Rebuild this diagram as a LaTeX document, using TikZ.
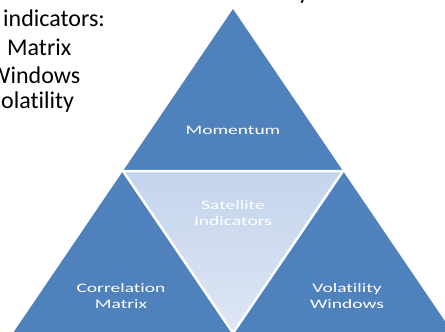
\documentclass[tikz,border=0pt]{standalone}
\usepackage{fontspec}
\setmainfont[Ligatures=CommonOff]{Carlito}
\newfontfamily\widefont[FakeStretch=1.5,Ligatures=CommonOff]{Carlito}
\usetikzlibrary{calc}

\definecolor{triblue}{HTML}{4F81BD}
\definecolor{satlight}{HTML}{C4D4ED}
\definecolor{satpale}{HTML}{DDE6F4}

\tikzset{
  tri/.style={fill=triblue},
  trilabel/.style={text=white,font=\widefont\fontsize{13}{16}\selectfont,align=center},
  sidetext/.style={anchor=base west,inner sep=0pt,font=\fontsize{24}{28}\selectfont},
}

\begin{document}
\begin{tikzpicture}[x=1pt,y=-1pt]
    \useasboundingbox (0,0) rectangle (445,332);
    \clip (0,0) rectangle (445,332);
    % Corners of the big triangle
        \coordinate (top) at (233,9);
        \coordinate (bl) at (13,333);
        \coordinate (br) at (453,333);
        \coordinate (ml) at ($(top)!0.5!(bl)$);
        \coordinate (mr) at ($(top)!0.5!(br)$);
        \coordinate (mb) at ($(bl)!0.5!(br)$);
    % Triangles
        \fill[tri] (top) -- (ml) -- (mr) -- cycle; % top
        \fill[tri] (ml) -- (bl) -- (mb) -- cycle; % left
        \fill[tri] (mr) -- (mb) -- (br) -- cycle; % right
        \shade[top color=satlight,bottom color=satpale] (ml) -- (mr) -- (mb) -- cycle; % centre
    % Gaps
        \draw[white,line width=2.5pt,line join=round] (ml) -- (mr) -- (mb) -- cycle;
    % Labels
        \node[trilabel] (mom) at (233,130) {Momentum};
        \node[trilabel] (sat) at (233,213) {Satellite\\Indicators};
        \node[trilabel] (corr) at (121,296) {Correlation\\Matrix};
        \node[trilabel] (vol) at (347,296) {Volatility\\Windows};
    % Text on the left (cut off)
        \node[sidetext] (head) at (298,-1) {y};
        \node[sidetext] (ind) at (3,27) {indicators:};
        \node[sidetext] (mat) at (7,56) {Matrix};
        \node[sidetext] (win) at (-11,83) {Windows};
        \node[sidetext] (vola) at (1,108) {olatility};
\end{tikzpicture}
\end{document}
